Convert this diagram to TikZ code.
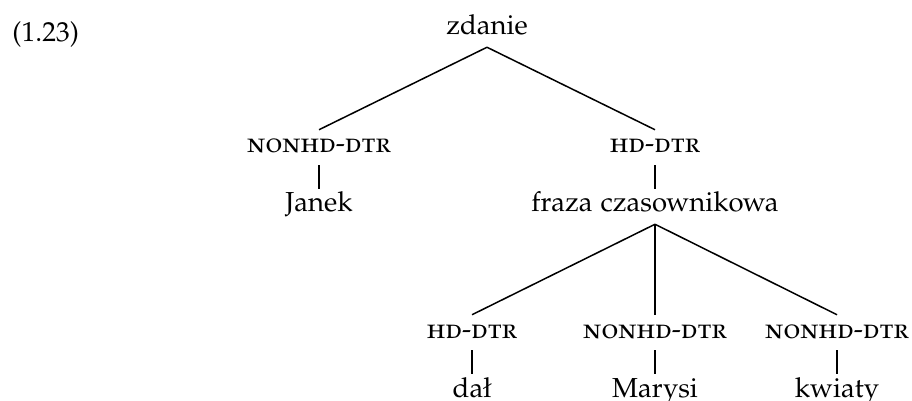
\documentclass[tikz,border=0pt]{standalone}
\usepackage[T1]{fontenc}
\usepackage[sc]{mathpazo}
\usepackage{tikz}
\usetikzlibrary{positioning}
\tikzset{cat/.style={draw=none, rectangle, inner xsep=0pt, inner ysep=1.3pt, text height=7.8pt, text depth=3.4pt, font=\fontsize{11}{13}\selectfont}}
\tikzset{dtr/.style={cat, font=\fontsize{11}{13}\selectfont\scshape}}
\tikzset{branch/.style={draw, line width=0.6pt}}

\begin{document}
\begin{tikzpicture}
		\useasboundingbox (0pt,0pt) rectangle (364.8pt,-160.4pt);
		\node [cat, anchor=base west] (exnum) at (4.8pt,-16.8pt) {(1.23)};
		\node [cat] (zdanie) at (194.8pt,-11.8pt) {zdanie};
		
		% first level
		\node [dtr, below of=zdanie, node distance=47.2pt, xshift=-67.2pt] (subj) {nonhd-dtr};
		\node [dtr, below of=zdanie, node distance=47.2pt, xshift=67.2pt] (head) {hd-dtr};
		\node [cat, below of=subj, node distance=23.6pt] (janek) {Janek};
		\node [cat, below of=head, node distance=23.6pt] (vp) {fraza czasownikowa};
		
		% daughters of the verb phrase
		\node [dtr, below of=vp, node distance=50.4pt, xshift=-73.2pt] (vhead) {hd-dtr};
		\node [dtr, below of=vp, node distance=50.4pt] (iobj) {nonhd-dtr};
		\node [dtr, below of=vp, node distance=50.4pt, xshift=72.8pt] (dobj) {nonhd-dtr};
		\node [cat, below of=vhead, node distance=23.6pt] (dal) {da\l};
		\node [cat, below of=iobj, node distance=23.6pt] (marysi) {Marysi};
		\node [cat, below of=dobj, node distance=23.6pt] (kwiaty) {kwiaty};
		
		\path [branch] (zdanie.south) -- (subj.north);
		\path [branch] (zdanie.south) -- (head.north);
		\path [branch] (subj) -- (janek);
		\path [branch] (head) -- (vp);
		\path [branch] (vp.south) -- (vhead.north);
		\path [branch] (vp.south) -- (iobj.north);
		\path [branch] (vp.south) -- (dobj.north);
		\path [branch] (vhead) -- (dal);
		\path [branch] (iobj) -- (marysi);
		\path [branch] (dobj) -- (kwiaty);
		
\end{tikzpicture}
\end{document}
